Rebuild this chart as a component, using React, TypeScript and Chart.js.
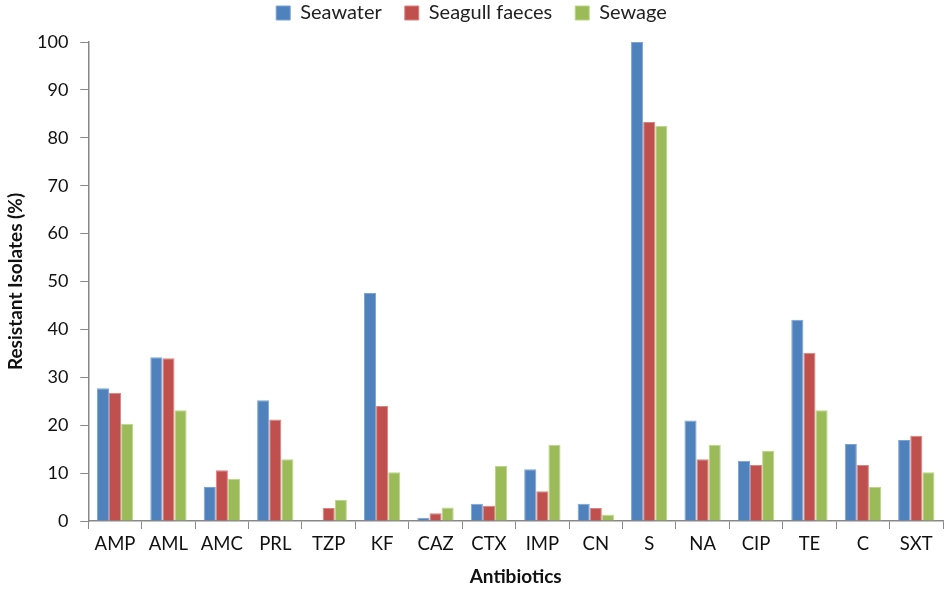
import React, { useEffect, useRef } from "react";
import { Chart, registerables } from "chart.js";

Chart.register(...registerables);

const categories = ["AMP", "AML", "AMC", "PRL", "TZP", "KF", "CAZ", "CTX", "IMP", "CN", "S", "NA", "CIP", "TE", "C", "SXT"];
const seawater = [27.7, 34.2, 7.1, 25.2, 0, 47.6, 0.7, 3.6, 10.8, 3.6, 100, 21.0, 12.6, 42.0, 16.1, 16.9];
const seagull = [26.8, 34.0, 10.6, 21.2, 2.7, 24.0, 1.6, 3.2, 6.2, 2.7, 83.3, 12.9, 11.7, 35.1, 11.7, 17.8];
const sewage = [20.3, 23.1, 8.8, 12.9, 4.4, 10.2, 2.8, 11.5, 15.9, 1.3, 82.5, 15.9, 14.6, 23.1, 7.1, 10.2];
const yTicks = [0, 10, 20, 30, 40, 50, 60, 70, 80, 90, 100];

const FONT = "Lato, 'Open Sans', sans-serif";
const LEGEND_PAD = 23;
const LEGEND_HEIGHT = 42;
const LEGEND_TEXT_TOP = 3;

const legendTweak = {
  id: "legendTweak",
  afterInit(chart: any) {
    const leg = chart.legend;
    if (!leg) return;
    const orig = leg.fit;
    leg.fit = function () {
      orig.call(this);
      this.height = LEGEND_HEIGHT;
    };
  },
  afterLayout(chart: any) {
    const leg = chart.legend;
    if (!leg) return;
    leg.top = LEGEND_TEXT_TOP - LEGEND_PAD;
    leg.bottom = leg.top + leg.height;
  },
};

export default function App() {
  const ref = useRef<HTMLCanvasElement>(null);
  useEffect(() => {
    if (!ref.current) return;
    const chart = new Chart(ref.current, {
      type: "bar",
      data: {
        labels: categories,
        datasets: [
          { label: "Seawater", data: seawater, backgroundColor: "#4F81BD", borderColor: "#7BA3D6", borderWidth: 1 },
          { label: "Seagull faeces", data: seagull, backgroundColor: "#C0504D", borderColor: "#D98481", borderWidth: 1 },
          { label: "Sewage", data: sewage, backgroundColor: "#9BBB59", borderColor: "#BBD68A", borderWidth: 1 },
        ],
      },
      plugins: [legendTweak],
      options: {
        animation: false,
        responsive: false,
        maintainAspectRatio: false,
        layout: { padding: { left: 0, right: 2, top: 0, bottom: 4 } },
        datasets: { bar: { barPercentage: 1, categoryPercentage: 0.68 } },
        plugins: {
          legend: {
            position: "top",
            labels: {
              boxWidth: 14,
              boxHeight: 14,
              padding: LEGEND_PAD,
              color: "#222",
              font: { family: FONT, size: 20 },
            },
          },
          tooltip: { enabled: false },
        },
        scales: {
          x: {
            grid: { drawOnChartArea: false, drawTicks: true, tickLength: 8, color: "#888", offset: true },
            border: { color: "#888", width: 1.5 },
            ticks: { color: "#111", font: { family: FONT, size: 18.5 }, padding: 4, maxRotation: 0, autoSkip: false },
            title: { display: true, text: "Antibiotics", color: "#111", font: { family: FONT, size: 19, weight: "bold" }, padding: { top: 6 } },
          },
          y: {
            min: 0,
            max: 100,
            afterBuildTicks: (axis: any) => {
              axis.ticks = yTicks.map((v) => ({ value: v }));
            },
            grid: { drawOnChartArea: false, drawTicks: true, tickLength: 8, color: "#888" },
            border: { color: "#888", width: 1.5 },
            ticks: { color: "#111", font: { family: FONT, size: 18 }, padding: 12 },
            title: { display: true, text: "Resistant Isolates (%)", color: "#111", font: { family: FONT, size: 19, weight: "bold", lineHeight: 1 }, padding: { top: 6, bottom: 0 } },
          },
        },
      },
    });
    return () => chart.destroy();
  }, []);
  return (
    <div style={{ position: "fixed", left: 0, top: 0, width: 945, height: 596, background: "#fff" }}>
      <canvas ref={ref} width={945} height={596} style={{ width: 945, height: 596 }} />
    </div>
  );
}
